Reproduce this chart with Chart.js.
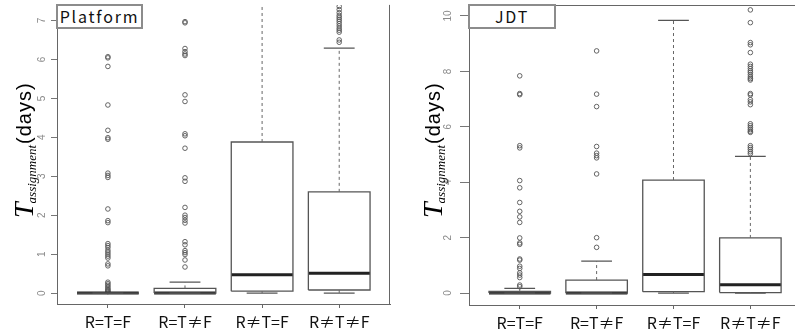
<!DOCTYPE html>
<html>
<head>
<meta charset="utf-8">
<script src="https://cdn.jsdelivr.net/npm/chart.js@4"></script>
<style>
  body { margin: 0; width: 795px; height: 333px; overflow: hidden; position: relative; background: #fff; }
  .panel { position: absolute; top: 0; height: 333px; }
  .tag {
    position: absolute; box-sizing: border-box; height: 25px; top: 4px;
    border: 2px solid #8c8c8c; background: #fff; color: #111;
    font: 16px "Noto Sans CJK JP", "Noto Sans", sans-serif; letter-spacing: 1.8px;
    text-align: center; line-height: 21px;
  }
</style>
</head>
<body>
<div class="panel" style="left:0;width:395px"><canvas id="platformChart"></canvas></div>
<div class="panel" style="left:395px;width:411px"><canvas id="jdtChart"></canvas></div>
<div class="tag" style="left:56px;width:87px">Platform</div>
<div class="tag" style="left:468px;width:88px">JDT</div>
<script>
const groups = ["R=T=F", "R=T≠F", "R≠T=F", "R≠T≠F"];

// Platform
const platformLower = [0, 0, 0, 0];
const platformQ1 = [0, 0, 0.05, 0.08];
const platformMedian = [0, 0, 0.47, 0.51];
const platformQ3 = [0, 0.12, 3.88, 2.6];
const platformUpper = [0, 0.28, 8.9, 6.29];
const platformOutliers = [
  [6.07, 6.04, 5.82, 4.83, 4.18, 3.99, 3.95, 3.08, 3.02, 2.97, 2.16, 1.86, 1.81, 1.27, 1.22, 1.17, 1.1, 1.05, 1.0, 0.95, 0.9, 0.75, 0.7, 0.28, 0.24, 0.2, 0.16, 0.12, 0.09, 0.06, 0.04],
  [6.97, 6.94, 6.28, 6.2, 6.14, 6.1, 5.09, 4.92, 4.09, 4.04, 3.72, 2.96, 2.87, 2.2, 2.0, 1.94, 1.87, 1.8, 1.32, 1.24, 1.09, 1.04, 0.99, 0.85, 0.67],
  [],
  [6.44, 6.5, 6.7, 6.75, 6.8, 6.86, 6.92, 6.98, 7.03, 7.08, 7.13, 7.2, 7.28, 7.36]
];
const platformTicks = [0, 1, 2, 3, 4, 5, 6, 7];
const platformRange = [-0.28, 7.4];

// JDT
const jdtLower = [0, 0, 0, 0];
const jdtQ1 = [0, 0, 0.05, 0.02];
const jdtMedian = [0, 0, 0.67, 0.3];
const jdtQ3 = [0.06, 0.47, 4.08, 1.99];
const jdtUpper = [0.17, 1.15, 9.84, 4.93];
const jdtOutliers = [
  [7.84, 7.2, 7.16, 5.32, 5.24, 4.06, 3.8, 3.27, 2.95, 2.75, 2.55, 1.99, 1.81, 1.76, 1.23, 1.19, 0.97, 0.89, 0.73, 0.65, 0.56, 0.29, 0.23],
  [8.74, 7.18, 6.73, 5.29, 5.05, 4.96, 4.88, 4.3, 2.0, 1.65],
  [],
  [10.22, 9.76, 9.04, 8.96, 8.68, 8.26, 8.18, 8.1, 8.02, 7.96, 7.88, 7.8, 7.74, 7.69, 7.2, 7.15, 6.98, 6.9, 6.8, 6.11, 6.04, 5.97, 5.9, 5.84, 5.8, 5.32, 5.25, 5.18, 5.1, 5.03]
];
const jdtTicks = [0, 2, 4, 6, 8, 10];
const jdtRange = [-0.43, 10.4];

const BOX_HALF = 0.4;
const CAP_HALF = 0.2;
const GAP = x => ({ x, y: null });

function boxDatasets(lower, q1, med, q3, upper, outliers) {
  const boxes = [], medians = [], whiskers = [], caps = [], points = [];
  groups.forEach((g, i) => {
    const c = i + 1, l = c - BOX_HALF, r = c + BOX_HALF;
    boxes.push({ x: l, y: q1[i] }, { x: r, y: q1[i] }, { x: r, y: q3[i] }, { x: l, y: q3[i] }, { x: l, y: q1[i] }, GAP(c));
    medians.push({ x: l, y: med[i] }, { x: r, y: med[i] }, GAP(c));
    whiskers.push({ x: c, y: q3[i] }, { x: c, y: upper[i] }, GAP(c), { x: c, y: q1[i] }, { x: c, y: lower[i] }, GAP(c));
    caps.push({ x: c - CAP_HALF, y: upper[i] }, { x: c + CAP_HALF, y: upper[i] }, GAP(c),
              { x: c - CAP_HALF, y: lower[i] }, { x: c + CAP_HALF, y: lower[i] }, GAP(c));
    outliers[i].forEach(v => points.push({ x: c, y: v }));
  });
  const line = { showLine: true, pointRadius: 0, spanGaps: false, fill: false };
  return [
    { ...line, data: whiskers, borderColor: "#666", borderWidth: 1, borderDash: [3, 3] },
    { ...line, data: caps, borderColor: "#555", borderWidth: 1.2 },
    { ...line, data: boxes, borderColor: "#555", borderWidth: 1.3 },
    { ...line, data: medians, borderColor: "#222", borderWidth: 3 },
    { data: points, showLine: false, pointStyle: "circle", pointRadius: 2.3, pointBorderWidth: 0.9,
      borderColor: "#555", backgroundColor: "rgba(0,0,0,0)" }
  ];
}

const panelDecor = {
  id: "panelDecor",
  afterDraw(chart, args, opts) {
    const { ctx, chartArea: a } = chart;
    const y = chart.scales.y;
    ctx.save();
    ctx.strokeStyle = "#666";
    ctx.lineWidth = 1;
    if (opts.right) {
      ctx.beginPath();
      ctx.moveTo(Math.round(a.right) - 0.5, a.top);
      ctx.lineTo(Math.round(a.right) - 0.5, a.bottom);
      ctx.stroke();
    }
    if (opts.top) {
      ctx.beginPath();
      ctx.moveTo(a.left, Math.round(a.top) + 0.5);
      ctx.lineTo(a.right, Math.round(a.top) + 0.5);
      ctx.stroke();
    }
    ctx.rotate(-Math.PI / 2);
    // rotated tick labels
    ctx.fillStyle = "#8a8a8a";
    ctx.font = '10px "Liberation Sans"';
    ctx.textAlign = "center";
    ctx.textBaseline = "middle";
    opts.ticks.forEach(v => ctx.fillText(String(v), -y.getPixelForValue(v), opts.labelX));
    // axis title: T_assignment (days)
    ctx.textAlign = "left";
    ctx.textBaseline = "alphabetic";
    ctx.fillStyle = "#000";
    let pos = -opts.titleStart;
    ctx.font = 'italic 28px "Liberation Serif"';
    ctx.fillText("T", pos, opts.titleX);
    pos += ctx.measureText("T").width - 1;
    ctx.font = 'italic 13px "Liberation Serif"';
    ctx.fillText("assignment", pos, opts.titleX + 3);
    pos += ctx.measureText("assignment").width + 1;
    ctx.font = '20px "Liberation Sans"';
    ctx.letterSpacing = "1px";
    ctx.fillText("(days)", pos, opts.titleX - 2);
    ctx.letterSpacing = "0px";
    ctx.restore();
  }
};

function makeChart(id, datasets, range, ticks, yWidth, xHeight, padding, decor) {
  return new Chart(document.getElementById(id), {
    type: "scatter",
    data: { datasets },
    plugins: [panelDecor],
    options: {
      responsive: true,
      maintainAspectRatio: false,
      animation: false,
      devicePixelRatio: 1,
      layout: { padding },
      scales: {
        x: {
          type: "linear", min: 0.34, max: 4.66,
          afterBuildTicks: s => { s.ticks = groups.map((g, i) => ({ value: i + 1 })); },
          afterFit: s => { s.height = xHeight; },
          grid: { display: true, drawOnChartArea: false, drawTicks: true, tickLength: 4, color: "#666" },
          border: { display: true, color: "#666", width: 1 },
          ticks: {
            callback: v => groups[v - 1],
            font: { family: '"Noto Sans CJK JP"', size: 16 },
            color: "#111", padding: 4, maxRotation: 0, autoSkip: false
          }
        },
        y: {
          type: "linear", min: range[0], max: range[1],
          afterBuildTicks: s => { s.ticks = ticks.map(v => ({ value: v })); },
          afterFit: s => { s.width = yWidth; },
          grid: { display: true, drawOnChartArea: false, drawTicks: true, tickLength: decor.tickLen, color: "#777" },
          border: { display: true, color: "#666", width: 1 },
          ticks: { display: false }
        }
      },
      plugins: {
        legend: { display: false },
        tooltip: { enabled: false },
        panelDecor: { ...decor, ticks }
      }
    }
  });
}

makeChart("platformChart",
  boxDatasets(platformLower, platformQ1, platformMedian, platformQ3, platformUpper, platformOutliers),
  platformRange, platformTicks, 57, 29, { left: 0, right: 4, top: 0, bottom: 0 },
  { right: true, top: false, tickLen: 6, labelX: 42, titleX: 33, titleStart: 218 });

makeChart("jdtChart",
  boxDatasets(jdtLower, jdtQ1, jdtMedian, jdtQ3, jdtUpper, jdtOutliers),
  jdtRange, jdtTicks, 74, 28, { left: 0, right: 0, top: 4, bottom: 0 },
  { right: false, top: true, tickLen: 9, labelX: 53, titleX: 47, titleStart: 218 });
</script>
</body>
</html>
